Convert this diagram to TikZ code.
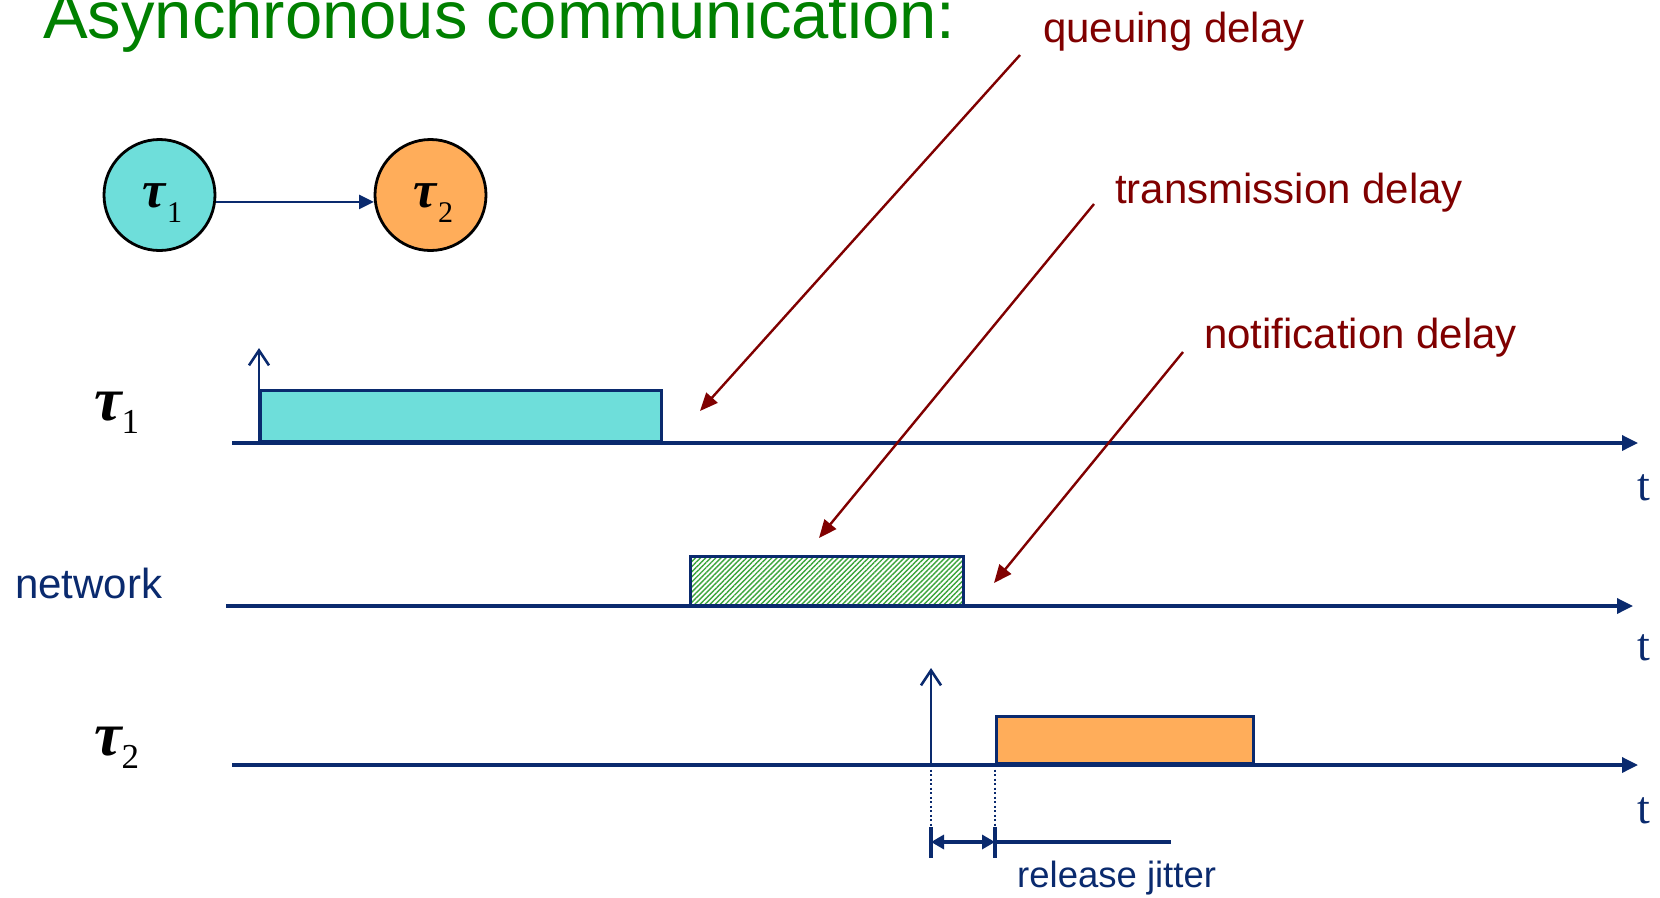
\documentclass[tikz,border=0pt]{standalone}
\usepackage{fontspec}
\setmainfont{Liberation Sans}
\newfontfamily\tnr{Liberation Serif}
\usetikzlibrary{arrows.meta,patterns.meta,calc}
\definecolor{navy}{RGB}{10,42,110}
\definecolor{dred}{RGB}{128,0,0}
\definecolor{tgreen}{RGB}{0,128,0}
\definecolor{cyanfill}{RGB}{110,222,218}
\definecolor{orangefill}{RGB}{255,173,90}
\definecolor{hatchgreen}{RGB}{60,165,60}
\newcommand\tasklabel[1]{\hspace*{6pt}\raisebox{0pt}[24pt][0pt]{{\tnr\bfseries\itshape\fontsize{52}{52}\selectfont τ}\hspace{1pt}\raisebox{-15pt}{\tnr\fontsize{30}{30}\selectfont #1}}}
\newcommand\rowlabel[1]{{\tnr\bfseries\itshape\fontsize{62}{62}\selectfont τ}\hspace{0pt}\raisebox{-13pt}{\tnr\fontsize{35}{35}\selectfont #1}}
\begin{document}
\begin{tikzpicture}[x=1pt,y=-1pt,
  task/.style={circle, draw=black, line width=2.8pt, minimum size=111pt, inner sep=0pt},
  axisline/.style={draw=navy, line width=3.4pt, -{Triangle[length=16pt,width=15pt]}},
  tlab/.style={anchor=base west, inner sep=0pt, text=navy, font=\tnr\fontsize{46}{46}\selectfont},
  bar/.style={draw=navy, line width=3pt, inner sep=0pt, anchor=south west},
  release/.style={draw=navy, line width=2.6pt, -{Straight Barb[length=15pt,width=20pt]}},
  redlabel/.style={anchor=base west, inner sep=0pt, text=dred, font=\fontsize{42}{42}\selectfont},
  redarrow/.style={draw=dred, line width=2.4pt, -{Triangle[length=18pt,width=15pt]}},
  bluetext/.style={anchor=base west, inner sep=0pt, text=navy},
  dimline/.style={draw=navy, line width=3.2pt}
]
\useasboundingbox (0,0) rectangle (1660,897);
\fill[white] (0,0) rectangle (1660,897);

% title
\node[anchor=base west, inner sep=0pt, text=tgreen, font=\fontsize{67}{70}\selectfont] (title) at (43,38) {Asynchronous communication:};

% task graph
\node[task, fill=cyanfill] (c1) at (159.5,195) {\tasklabel{1}};
\node[task, fill=orangefill] (c2) at (430.5,195) {\tasklabel{2}};
\draw[navy, line width=2.8pt, -{Triangle[length=15pt,width=14pt]}] (c1.-7) -- (c2.187);

% row labels
\node[anchor=base west, inner sep=0pt] (l1) at (94,420) {\rowlabel{1}};
\node[bluetext, font=\fontsize{42}{42}\selectfont] (lnet) at (15,598) {network};
\node[anchor=base west, inner sep=0pt] (l2) at (94,755) {\rowlabel{2}};

% axes
\coordinate (a1s) at (232,443); \coordinate (a1e) at (1638,443);
\coordinate (a2s) at (226,606); \coordinate (a2e) at (1633,606);
\coordinate (a3s) at (232,765); \coordinate (a3e) at (1638,765);

% bars
\node[bar, fill=cyanfill, minimum width=401pt, minimum height=51pt] (b1) at (259,443) {};
\node[bar, pattern={Lines[angle=45,distance=3.6pt,line width=1.4pt]}, pattern color=hatchgreen, minimum width=273pt, minimum height=49pt] (b2) at (690,606) {};
\node[bar, fill=orangefill, minimum width=257pt, minimum height=47pt] (b3) at (995,765) {};

\draw[axisline] (a1s) -- (a1e);
\draw[axisline] (a2s) -- (a2e);
\draw[axisline] (a3s) -- (a3e);
\node[tlab] (t1) at (1637,500) {t};
\node[tlab] (t2) at (1637,660) {t};
\node[tlab] (t3) at (1637,823) {t};

% release arrows
\draw[release] (b1.south west) -- ++(0,-95);
\coordinate (r2) at (931,765);
\draw[release] (r2) -- ++(0,-97);

% release jitter
\coordinate (d1) at (931,827); \coordinate (d2) at (995,827);
\draw[navy, line width=2.2pt, dash pattern=on 2pt off 2.5pt] (r2) -- (d1);
\draw[navy, line width=2.2pt, dash pattern=on 2pt off 2.5pt] (b3.south west) -- (d2);
\draw[dimline] (d1) -- ++(0,31);
\draw[dimline] (d2) -- ++(0,31);
\coordinate (j1) at (931,842); \coordinate (j2) at (995,842); \coordinate (j3) at (1171,842);
\draw[dimline, {Triangle[length=13pt,width=14pt]}-{Triangle[length=13pt,width=14pt]}] (j1) -- (j2);
\draw[dimline] (j2) -- (j3);
\node[bluetext, font=\fontsize{36.5}{37}\selectfont] (rj) at (1017,887) {release jitter};

% delay labels and arrows
\node[redlabel] (ql) at (1043,42) {queuing delay};
\node[redlabel] (tl) at (1115,203) {transmission delay};
\node[redlabel] (nl) at (1204,348) {notification delay};
\coordinate (qs) at (1020,55); \coordinate (qe) at (700,411);
\coordinate (ts) at (1094,204); \coordinate (te) at (819,538);
\coordinate (ns) at (1183,352); \coordinate (ne) at (994,583);
\draw[redarrow] (qs) -- (qe);
\draw[redarrow] (ts) -- (te);
\draw[redarrow] (ns) -- (ne);
\end{tikzpicture}
\end{document}
